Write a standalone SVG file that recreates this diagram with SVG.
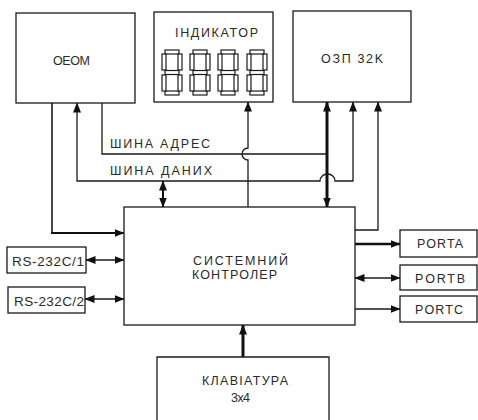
<svg xmlns="http://www.w3.org/2000/svg" xmlns:xlink="http://www.w3.org/1999/xlink" width="478" height="420" viewBox="0 0 478 420">
<style>
.box{fill:#fff;stroke:#1a1a1a;stroke-width:1.3}
.t{font-family:"Liberation Sans",Arial,sans-serif;font-size:12.5px;fill:#2a2a2a}
.c{fill:none;stroke:#1a1a1a;stroke-width:1.3}
.k{fill:none;stroke:#111;stroke-width:2.6}
.seg{fill:#fff;stroke:#1a1a1a;stroke-width:1.2}
</style>
<defs>
<marker id="ah" markerUnits="userSpaceOnUse" markerWidth="10" markerHeight="8" viewBox="0 0 10 8" refX="9.5" refY="4" orient="auto-start-reverse"><path d="M0,0 L10,4 L0,8 z" fill="#111"/></marker>
<g id="digit">
<rect class="seg" x="3" y="0" width="14" height="4"/>
<rect class="seg" x="3" y="20.5" width="14" height="4"/>
<rect class="seg" x="3" y="41" width="14" height="4"/>
<rect class="seg" x="0" y="4" width="4" height="16"/>
<rect class="seg" x="16" y="4" width="4" height="16"/>
<rect class="seg" x="0" y="25" width="4" height="16"/>
<rect class="seg" x="16" y="25" width="4" height="16"/>
</g>
</defs>
<rect width="478" height="420" fill="#fff"/>
<g id="connectors">
<path class="c" d="M52,103 V233" style="stroke-width:1.6"/>
<path class="k" d="M51,233 H124" style="stroke-width:2.2" marker-end="url(#ah)"/>
<path class="c" d="M77,103 V181 H320 A7.5,7 0 0 1 335,181 H353 V102" marker-start="url(#ah)" marker-end="url(#ah)"/>
<path class="k" d="M163,181 V207" style="stroke-width:2" marker-start="url(#ah)" marker-end="url(#ah)"/>
<path class="c" d="M102,103 V154 H327"/>
<path class="k" d="M327,102 V207" style="stroke-width:3" marker-start="url(#ah)" marker-end="url(#ah)"/>
<path class="c" d="M248,207 V160 A6,6 0 0 1 248,148 V102" marker-end="url(#ah)"/>
<path class="c" d="M355,230 H378 V102" marker-end="url(#ah)"/>
<path class="c" d="M86,260 H124" marker-start="url(#ah)" marker-end="url(#ah)"/>
<path class="c" d="M85,299 H124" marker-start="url(#ah)" marker-end="url(#ah)"/>
<path class="k" d="M355,244 H400" marker-end="url(#ah)"/>
<path class="c" d="M355,278 H400" marker-start="url(#ah)" marker-end="url(#ah)"/>
<path class="c" d="M355,309 H400" marker-end="url(#ah)"/>
<path class="k" d="M243,357 V325" style="stroke-width:3" marker-end="url(#ah)"/>
<text class="t" x="110" y="148" textLength="100" lengthAdjust="spacing">ШИНА АДРЕС</text>
<text class="t" x="110" y="175" textLength="102" lengthAdjust="spacing">ШИНА ДАНИХ</text>
</g>
<g id="oeom">
<rect class="box" x="16" y="13" width="119" height="90"/>
<text class="t" x="53" y="65" textLength="37" lengthAdjust="spacing">OEOM</text>
</g>
<g id="indicator">
<rect class="box" x="154" y="12" width="119" height="90"/>
<text class="t" x="175" y="37" textLength="83" lengthAdjust="spacing">ІНДИКАТОР</text>
<use xlink:href="#digit" x="162" y="50"/>
<use xlink:href="#digit" x="190" y="50"/>
<use xlink:href="#digit" x="218" y="50"/>
<use xlink:href="#digit" x="247" y="50"/>
</g>
<g id="ozp">
<rect class="box" x="293" y="11" width="118" height="91"/>
<text class="t" x="321" y="63" textLength="62" lengthAdjust="spacing">ОЗП 32K</text>
</g>
<g id="controller">
<rect class="box" x="124" y="207" width="231" height="118"/>
<text class="t" x="193" y="265" textLength="95" lengthAdjust="spacing">СИСТЕМНИЙ</text>
<text class="t" x="192" y="279" textLength="85" lengthAdjust="spacing">КОНТРОЛЕР</text>
</g>
<g id="rs1">
<rect class="box" x="7" y="247" width="79" height="26"/>
<text class="t" x="12" y="266" style="font-size:13.5px" textLength="72" lengthAdjust="spacing">RS-232C/1</text>
</g>
<g id="rs2">
<rect class="box" x="8" y="287" width="77" height="26"/>
<text class="t" x="14" y="306" style="font-size:13.5px" textLength="70" lengthAdjust="spacing">RS-232C/2</text>
</g>
<g id="porta">
<rect class="box" x="400" y="230" width="77" height="27"/>
<text class="t" x="417" y="248" textLength="46" lengthAdjust="spacing">PORTA</text>
</g>
<g id="portb">
<rect class="box" x="400" y="265" width="77" height="25"/>
<text class="t" x="415" y="283" textLength="50" lengthAdjust="spacing">PORTB</text>
</g>
<g id="portc">
<rect class="box" x="400" y="296" width="77" height="26"/>
<text class="t" x="415" y="314" textLength="48" lengthAdjust="spacing">PORTC</text>
</g>
<g id="keyboard">
<path class="box" d="M157,421 V357 H329 V421"/>
<text class="t" x="202" y="385" textLength="86" lengthAdjust="spacing">КЛАВІАТУРА</text>
<text class="t" x="231" y="402" textLength="19" lengthAdjust="spacing">3x4</text>
</g>
</svg>
